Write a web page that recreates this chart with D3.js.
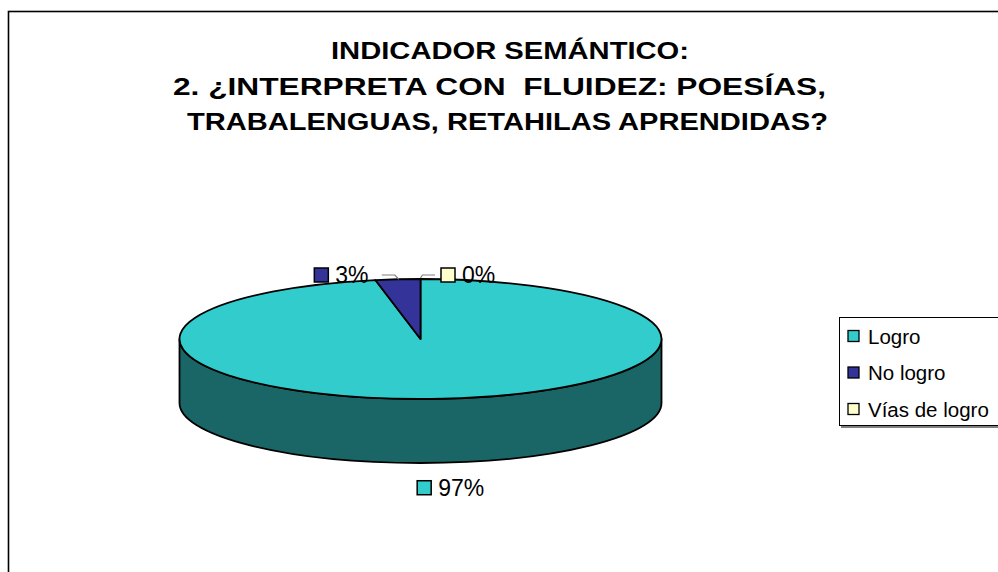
<!DOCTYPE html>
<html>
<head>
<meta charset="utf-8">
<script src="https://cdn.jsdelivr.net/npm/d3@7"></script>
<style>
  body { margin: 0; background: #fff; }
  svg { display: block; font-family: "Liberation Sans", Arial, sans-serif; }
</style>
</head>
<body>
<svg id="chart" width="998" height="572"></svg>
<script>
// data
const categories = ['Logro', 'No logro', 'Vías de logro'];
const values = [97, 3, 0];
const pctLabels = ['97%', '3%', '0%'];
const topColors = ['#33cccc', '#333399', '#ffffcc'];
const sideColors = ['#1a6666', '#1a1a4d', '#808066'];
const titleLines = [
  'INDICADOR SEMÁNTICO:',
  '2. ¿INTERPRETA CON  FLUIDEZ: POESÍAS,',
  'TRABALENGUAS, RETAHILAS APRENDIDAS?'
];

const svg = d3.select('#chart');

// chart frame
svg.append('rect')
  .attr('x', 8.5).attr('y', 11.5)
  .attr('width', 1100).attr('height', 700)
  .attr('fill', '#fff')
  .attr('stroke', '#000')
  .attr('stroke-width', 1.6);

// title
const titleX = [331, 173, 187];
const titleW = [358, 653, 641];
svg.append('g')
  .selectAll('text')
  .data(titleLines)
  .join('text')
    .attr('x', (d, i) => titleX[i])
    .attr('y', (d, i) => 59 + i * 35.5)
    .attr('textLength', (d, i) => titleW[i])
    .attr('lengthAdjust', 'spacingAndGlyphs')
    .style('white-space', 'pre')
    .attr('font-size', 24)
    .attr('font-weight', 'bold')
    .text(d => d);

// 3d pie
const cx = 420.5, cy = 339, rx = 241, ry = 60, depth = 64;
const pt = (a, dy = 0) => [cx + rx * Math.sin(a), cy - ry * Math.cos(a) + dy];

const arcs = d3.pie().sort(null).value(d => d)(values);

const g = svg.append('g');

// sides (front half only)
arcs.forEach((d, i) => {
  const s = Math.max(d.startAngle, Math.PI / 2);
  const e = Math.min(d.endAngle, 3 * Math.PI / 2);
  if (e <= s) return;
  const p0 = pt(s), p1 = pt(e), p2 = pt(e, depth), p3 = pt(s, depth);
  const large = (e - s) > Math.PI ? 1 : 0;
  g.append('path')
    .attr('d', `M${p0}A${rx},${ry} 0 ${large} 1 ${p1}L${p2}A${rx},${ry} 0 ${large} 0 ${p3}Z`)
    .attr('fill', sideColors[i])
    .attr('stroke', '#000')
    .attr('stroke-width', 1.8)
    .attr('stroke-linejoin', 'round');
});

// top faces
arcs.forEach((d, i) => {
  if (d.endAngle - d.startAngle <= 0) return;
  const p0 = pt(d.startAngle), p1 = pt(d.endAngle);
  const large = (d.endAngle - d.startAngle) > Math.PI ? 1 : 0;
  g.append('path')
    .attr('d', `M${cx},${cy}L${p0}A${rx},${ry} 0 ${large} 1 ${p1}Z`)
    .attr('fill', topColors[i])
    .attr('stroke', '#000')
    .attr('stroke-width', 1.8)
    .attr('stroke-linejoin', 'round');
});

// data labels
const lab = svg.append('g').attr('font-size', 23);
arcs.forEach((d, i) => {
  const mid = (d.startAngle + d.endAngle) / 2;
  const m = pt(mid);
  let mx, ty;
  if (Math.cos(mid) < 0) {
    // front: label under the pie side
    mx = m[0] - 26; ty = m[1] + depth + 25;
  } else if (Math.sin(mid) < -1e-6) {
    // back, left of the top
    svg.append('polyline')
      .attr('points', [[m[0] + 1, m[1]], [m[0] - 3, 275], [m[0] - 16, 275]].join(' '))
      .attr('fill', 'none').attr('stroke', '#808080').attr('stroke-width', 1.2);
    mx = m[0] - 83.5; ty = 275;
  } else {
    // back, right of the top
    svg.append('polyline')
      .attr('points', [[m[0], m[1] - 1], [m[0] + 2, 275], [m[0] + 14.5, 275]].join(' '))
      .attr('fill', 'none').attr('stroke', '#808080').attr('stroke-width', 1.2);
    mx = m[0] + 20.5; ty = 275;
  }
  lab.append('rect')
    .attr('x', mx).attr('y', ty - 7)
    .attr('width', 14).attr('height', 14)
    .attr('fill', topColors[i])
    .attr('stroke', '#000').attr('stroke-width', 1.5);
  lab.append('text')
    .attr('x', mx + 21).attr('y', ty)
    .attr('dominant-baseline', 'central')
    .text(pctLabels[i]);
});

// legend
const leg = svg.append('g').attr('transform', 'translate(839,317)');
leg.append('rect')
  .attr('x', 2).attr('y', 2).attr('width', 200).attr('height', 109)
  .attr('fill', '#808080');
leg.append('rect')
  .attr('x', 0.5).attr('y', 0.5).attr('width', 200).attr('height', 108)
  .attr('fill', '#fff').attr('stroke', '#000').attr('stroke-width', 1);
const items = leg.selectAll('g.item')
  .data(categories)
  .join('g')
    .attr('class', 'item')
    .attr('transform', (d, i) => `translate(0,${19 + i * 36.5})`);
items.append('rect')
  .attr('x', 9).attr('y', -5.5)
  .attr('width', 11).attr('height', 11)
  .attr('fill', (d, i) => topColors[i])
  .attr('stroke', '#000').attr('stroke-width', 1.3);
items.append('text')
  .attr('x', 29).attr('y', 0)
  .attr('dominant-baseline', 'central')
  .attr('font-size', 20.5)
  .text(d => d);
</script>
</body>
</html>
